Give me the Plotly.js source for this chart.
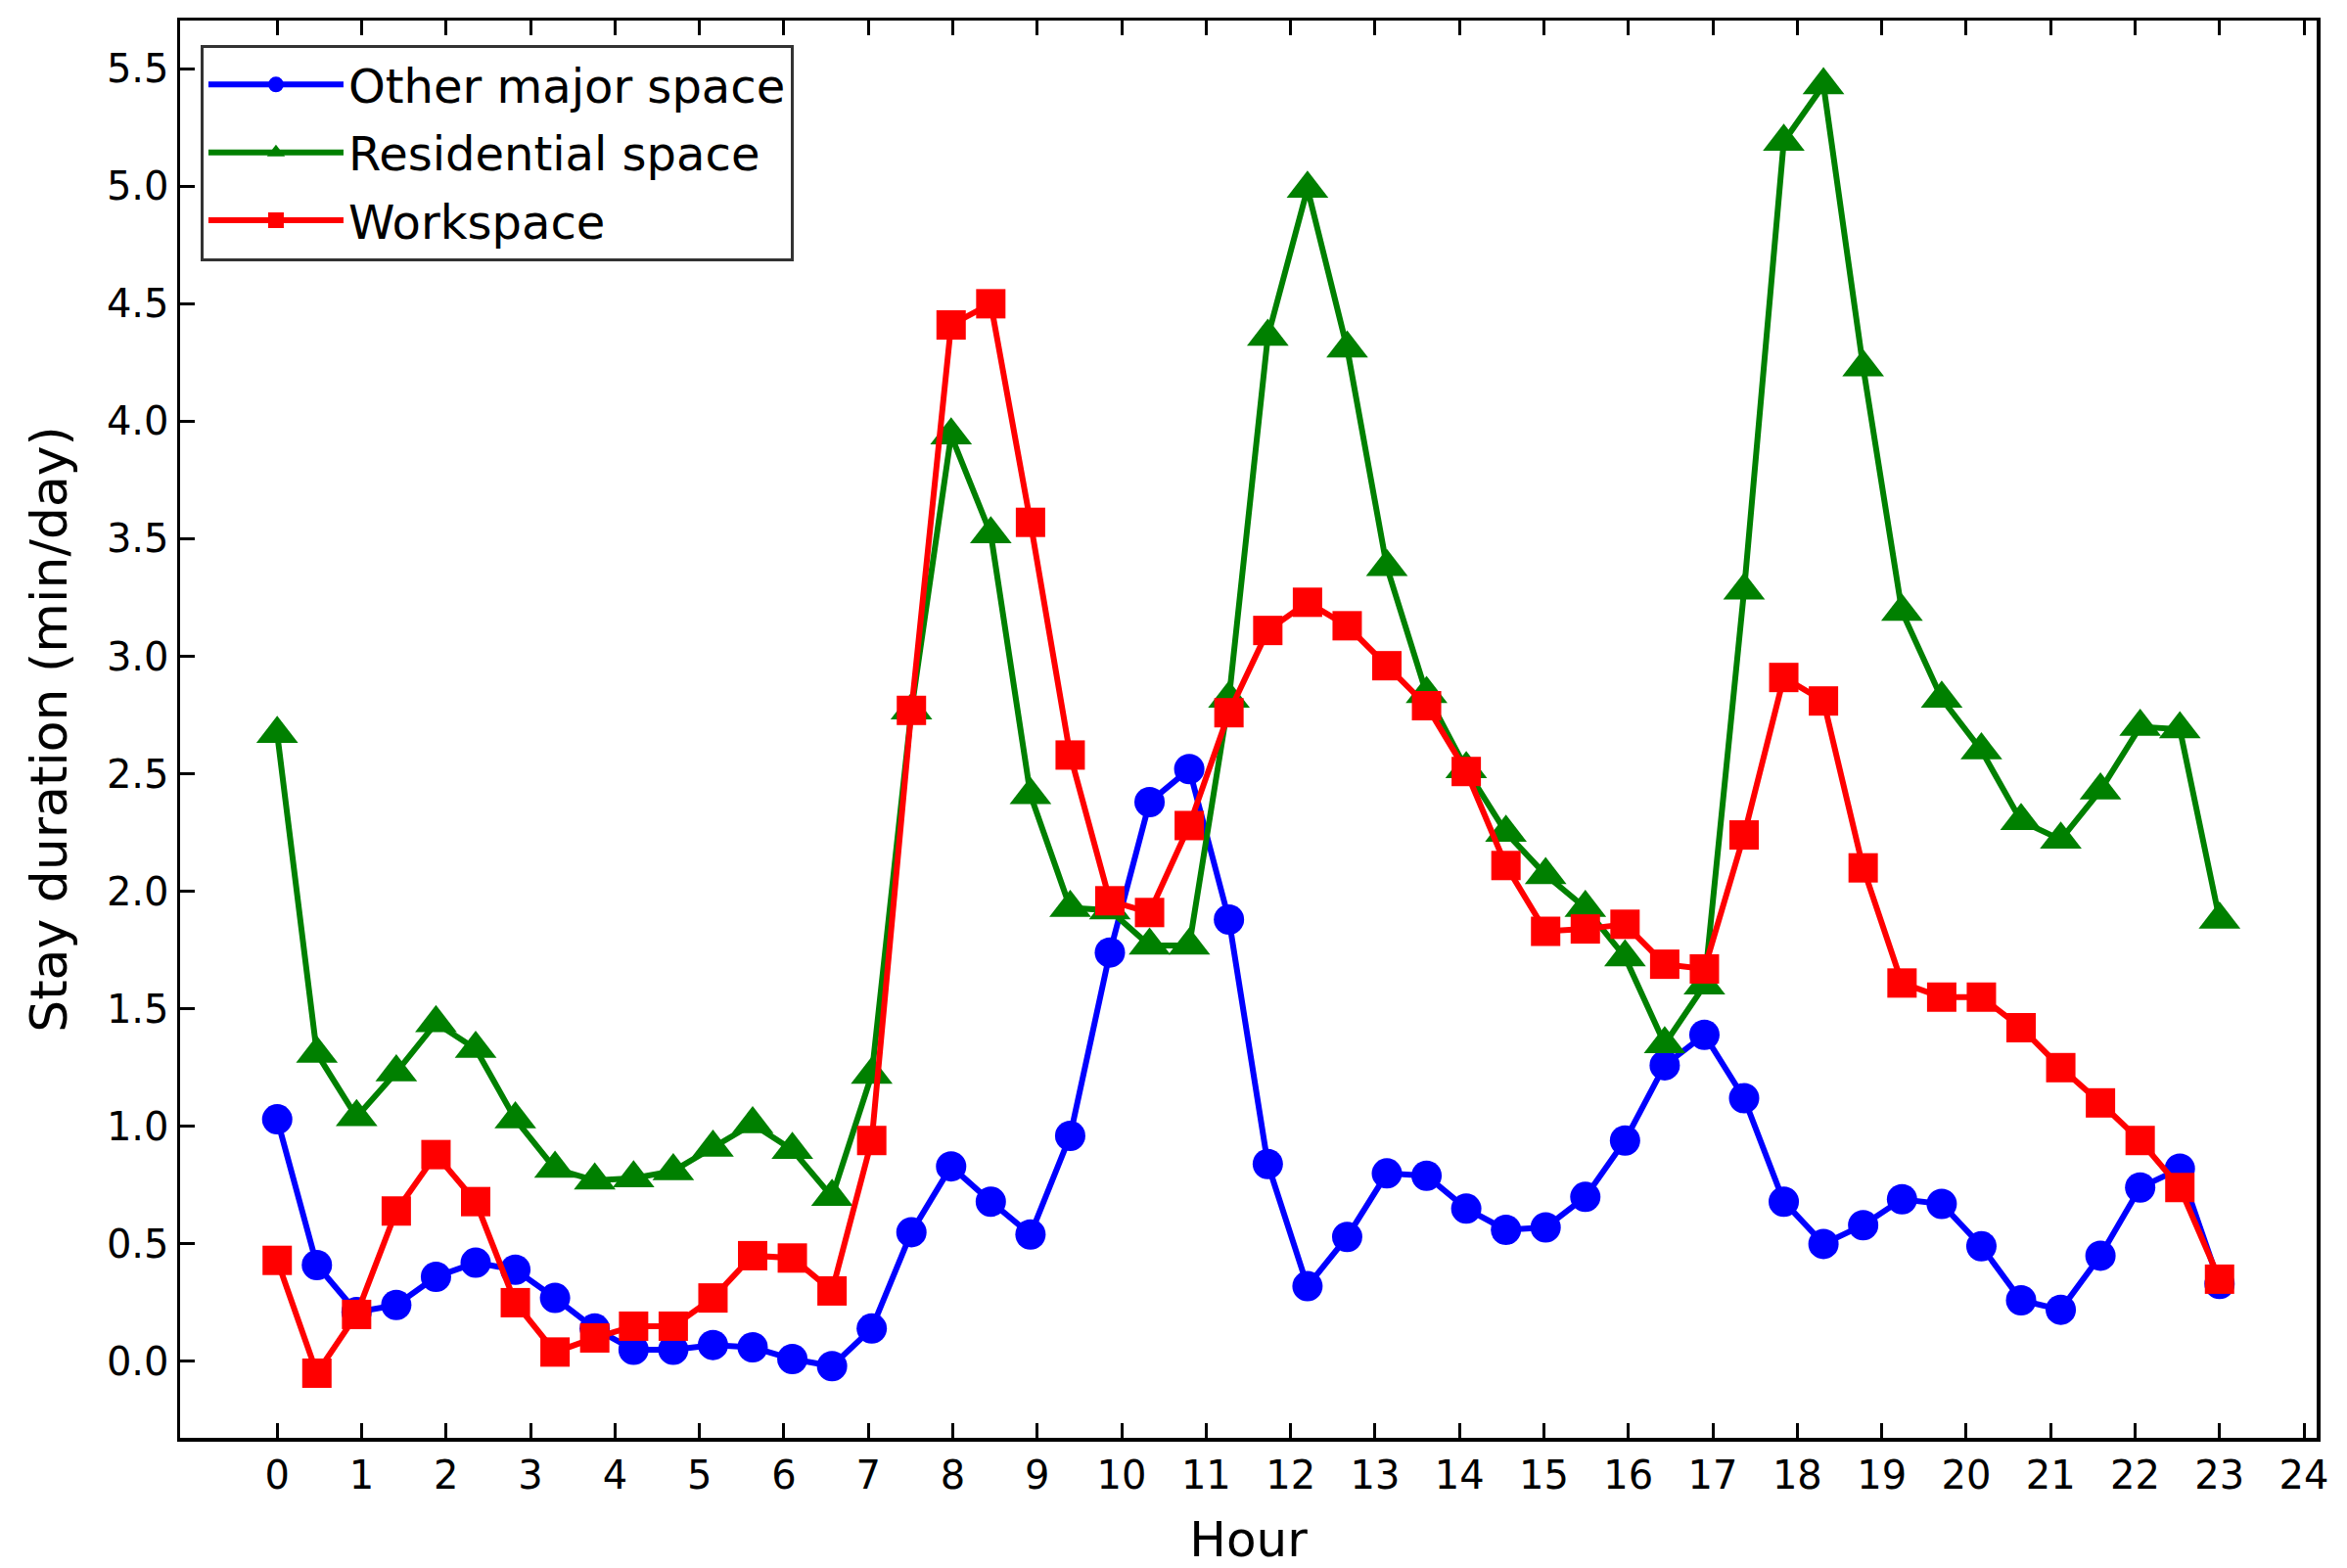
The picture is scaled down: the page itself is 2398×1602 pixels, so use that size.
<!DOCTYPE html>
<html>
<head>
<meta charset="utf-8">
<script src="https://cdn.plot.ly/plotly-3.0.1.min.js"></script>
<style>
  body { margin: 0; background: #fff; }
  #chart { width: 2398px; height: 1602px; }
</style>
</head>
<body>
<div id="chart"></div>
<script>
// hour of each sample (50 samples over 0..23 h)
const hours = [0, 0.47, 0.94, 1.41, 1.88, 2.35, 2.82, 3.29, 3.76, 4.22,
  4.69, 5.16, 5.63, 6.10, 6.57, 7.04, 7.51, 7.98, 8.45, 8.92,
  9.39, 9.86, 10.33, 10.80, 11.27, 11.73, 12.20, 12.67, 13.14, 13.61,
  14.08, 14.55, 15.02, 15.49, 15.96, 16.43, 16.90, 17.37, 17.84, 18.31,
  18.78, 19.24, 19.71, 20.18, 20.65, 21.12, 21.59, 22.06, 22.53, 23];

const otherMajor = [1.03, 0.41, 0.21, 0.24, 0.36, 0.42, 0.39, 0.27, 0.14, 0.05,
  0.05, 0.07, 0.06, 0.01, -0.02, 0.14, 0.55, 0.83, 0.68, 0.54,
  0.96, 1.74, 2.38, 2.52, 1.88, 0.84, 0.32, 0.53, 0.80, 0.79,
  0.65, 0.56, 0.57, 0.70, 0.94, 1.26, 1.39, 1.12, 0.68, 0.50,
  0.58, 0.69, 0.67, 0.49, 0.26, 0.22, 0.45, 0.74, 0.82, 0.33];

const residential = [2.67, 1.31, 1.04, 1.23, 1.44, 1.33, 1.03, 0.82, 0.77, 0.78,
  0.81, 0.91, 1.01, 0.90, 0.70, 1.22, 2.77, 3.94, 3.52, 2.41,
  1.93, 1.92, 1.77, 1.77, 2.82, 4.36, 4.99, 4.31, 3.38, 2.84,
  2.52, 2.25, 2.07, 1.93, 1.72, 1.35, 1.60, 3.28, 5.19, 5.43,
  4.23, 3.19, 2.82, 2.60, 2.30, 2.22, 2.43, 2.70, 2.69, 1.88];

const workspace = [0.43, -0.05, 0.20, 0.64, 0.88, 0.68, 0.25, 0.04, 0.10, 0.15,
  0.15, 0.27, 0.45, 0.44, 0.30, 0.94, 2.77, 4.41, 4.50, 3.57,
  2.58, 1.96, 1.91, 2.28, 2.76, 3.11, 3.23, 3.13, 2.96, 2.79,
  2.51, 2.11, 1.83, 1.84, 1.86, 1.69, 1.67, 2.24, 2.91, 2.81,
  2.10, 1.61, 1.55, 1.55, 1.42, 1.25, 1.10, 0.94, 0.74, 0.35];

const hourTicks = [0, 1, 2, 3, 4, 5, 6, 7, 8, 9, 10, 11, 12,
  13, 14, 15, 16, 17, 18, 19, 20, 21, 22, 23, 24];

const font = 'DejaVu Sans, sans-serif';

function series(name, y, color, symbol, size, group){
    return {
	x: hours,
	y: y,
	name: name,
	legendgroup: group,
	type: 'scatter',
	mode: 'lines+markers',
	line: { color: color, width: 6 },
	marker: { color: color, symbol: symbol, size: size }
    };
}

let data = [
    series('Other major space', otherMajor, '#0000ff', 'circle', 31, 'a'),
    series('Residential space', residential, '#008000', 'triangle-up', 37, 'b'),
    series('Workspace', workspace, '#ff0000', 'square', 30, 'c')
];

let layout = {
    width: 2398,
    height: 1602,
    paper_bgcolor: '#ffffff',
    plot_bgcolor: '#ffffff',
    font: { family: font, color: '#000000', size: 40 },
    margin: { l: 184, r: 31, t: 21, b: 133 },
    showlegend: true,
    legend: {
	x: 0.0096, y: 0.983, xanchor: 'left', yanchor: 'top',
	bgcolor: '#ffffff', bordercolor: '#333333', borderwidth: 3,
	font: { family: font, size: 48, color: '#000000' },
	itemwidth: 138,
	tracegroupgap: 4,
	traceorder: 'grouped'
    },
    xaxis: {
	range: [-1.15, 24.15],
	tickmode: 'array',
	tickvals: hourTicks,
	ticktext: hourTicks.map(String),
	ticks: 'inside', ticklen: 15, tickwidth: 3, tickcolor: '#000000',
	showline: true, linewidth: 3.5, linecolor: '#000000', mirror: 'ticks',
	showgrid: false, zeroline: false,
	tickfont: { family: font, size: 40 },
	title: { text: 'Hour', font: { family: font, size: 50 } },
	automargin: false
    },
    yaxis: {
	range: [-0.325, 5.705],
	tick0: 0, dtick: 0.5, tickformat: '.1f',
	ticks: 'inside', ticklen: 15, tickwidth: 3, tickcolor: '#000000',
	showline: true, linewidth: 3.5, linecolor: '#000000', mirror: true,
	showgrid: false, zeroline: false,
	tickfont: { family: font, size: 40 },
	title: { text: 'Stay duration (min/day)', font: { family: font, size: 52 } },
	automargin: false
    }
};

Plotly.newPlot('chart', data, layout, { staticPlot: true, displayModeBar: false });
</script>
</body>
</html>
